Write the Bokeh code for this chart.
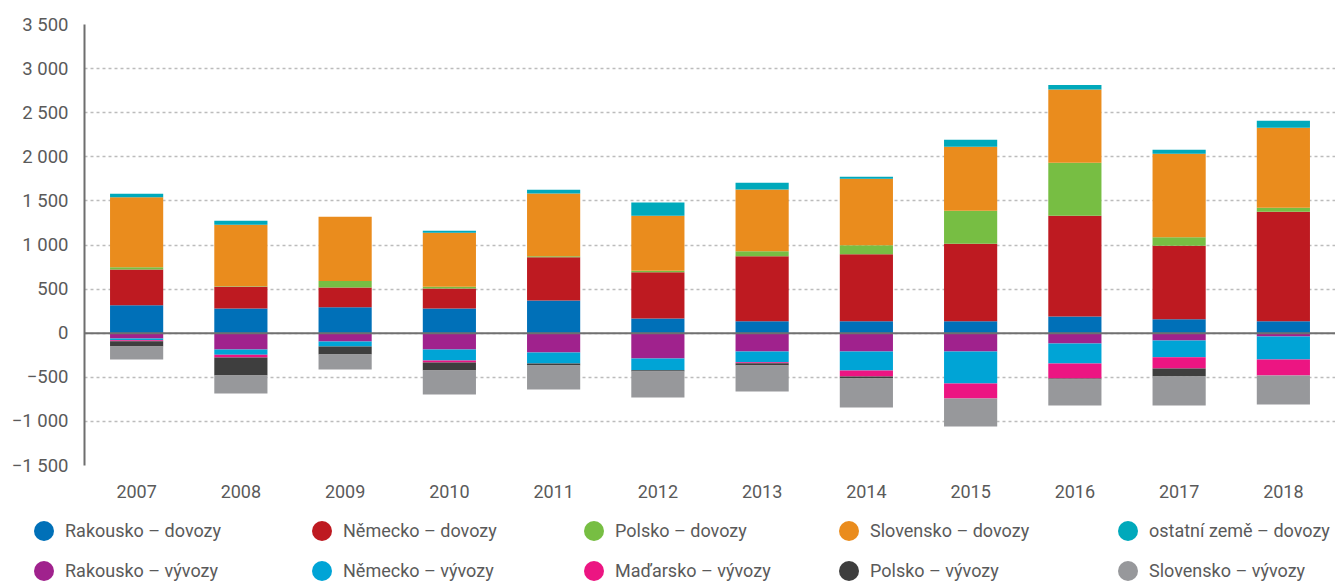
from bokeh.plotting import figure
from bokeh.layouts import column
from bokeh.models import Range1d, FactorRange, FixedTicker, Span, Div
from bokeh.embed import file_html
from bokeh.resources import INLINE

years = ["2007", "2008", "2009", "2010", "2011", "2012", "2013", "2014", "2015", "2016", "2017", "2018"]

rakousko_dovozy = [317, 279, 294, 279, 370, 166, 136, 136, 136, 189, 158, 136]
nemecko_dovozy = [404, 249, 223, 227, 490, 525, 736, 758, 879, 1143, 834, 1241]
polsko_dovozy = [26, 5, 75, 22, 12, 18, 56, 102, 374, 600, 95, 46]
slovensko_dovozy = [793, 697, 729, 612, 713, 623, 702, 755, 724, 830, 947, 905]
ostatni_dovozy = [41, 45, 0, 22, 41, 151, 76, 23, 79, 53, 45, 80]

rakousko_vyvozy = [-60, -185, -94, -185, -219, -287, -208, -208, -208, -117, -83, -38]
nemecko_vyvozy = [-19, -60, -57, -124, -124, -132, -120, -215, -362, -226, -189, -260]
madarsko_vyvozy = [-11, -30, 0, -23, 0, 0, -12, -68, -170, -170, -128, -181]
polsko_vyvozy = [-61, -204, -91, -91, -23, -15, -26, -22, 0, -12, -91, 0]
slovensko_vyvozy = [-147, -204, -169, -271, -272, -294, -294, -329, -317, -294, -328, -329]

import_labels = ["Rakousko – dovozy", "Německo – dovozy", "Polsko – dovozy",
                 "Slovensko – dovozy", "ostatní země – dovozy"]
export_labels = ["Rakousko – vývozy", "Německo – vývozy", "Maďarsko – vývozy",
                 "Polsko – vývozy", "Slovensko – vývozy"]
import_colors = ["#0070b8", "#be1a21", "#77be43", "#ea8c1d", "#00a9bb"]
export_colors = ["#a0228d", "#00a4d6", "#ec1582", "#3e3e3e", "#97989b"]

y_ticks = [-1500, -1000, -500, 0, 500, 1000, 1500, 2000, 2500, 3000, 3500]


def fmt(v):
    s = f"{abs(v):,}".replace(",", " ")
    return ("\u2212" + s) if v < 0 else s


FONT = "Roboto"
TEXT = "#5a5a5a"
W = 1335

p = figure(width=W, height=509, x_range=FactorRange(*years),
           y_range=Range1d(-1500, 3500), output_backend="svg",
           toolbar_location=None, min_border_left=84, min_border_right=0,
           min_border_top=24, min_border_bottom=44)
p.outline_line_color = None

imp_data = {"years": years, "i0": rakousko_dovozy, "i1": nemecko_dovozy, "i2": polsko_dovozy,
            "i3": slovensko_dovozy, "i4": ostatni_dovozy}
exp_data = {"years": years, "e0": rakousko_vyvozy, "e1": nemecko_vyvozy, "e2": madarsko_vyvozy,
            "e3": polsko_vyvozy, "e4": slovensko_vyvozy}

p.vbar_stack(["i0", "i1", "i2", "i3", "i4"], x="years", width=0.51, color=import_colors,
             line_color=None, source=imp_data)
p.vbar_stack(["e0", "e1", "e2", "e3", "e4"], x="years", width=0.51, color=export_colors,
             line_color=None, source=exp_data)

p.add_layout(Span(location=0, dimension="width", line_color="#707070", line_width=2))

p.yaxis.ticker = FixedTicker(ticks=y_ticks)
p.yaxis.major_label_overrides = {t: fmt(t) for t in y_ticks}
p.yaxis.axis_line_color = "#6e6e6e"
p.yaxis.axis_line_width = 2
p.yaxis.major_tick_line_color = None
p.yaxis.minor_tick_line_color = None
p.yaxis.major_tick_out = 0
p.yaxis.major_tick_in = 0
p.yaxis.major_label_standoff = 16
p.yaxis.major_label_text_font = FONT
p.yaxis.major_label_text_font_size = "18.5px"
p.yaxis.major_label_text_color = TEXT

p.xaxis.axis_line_color = None
p.xaxis.major_tick_line_color = None
p.xaxis.minor_tick_line_color = None
p.xaxis.major_tick_out = 0
p.xaxis.major_tick_in = 0
p.xaxis.major_label_standoff = 19
p.xaxis.major_label_text_font = FONT
p.xaxis.major_label_text_font_size = "18px"
p.xaxis.major_label_text_color = TEXT

p.xgrid.grid_line_color = None
p.ygrid.grid_line_color = "#bcbcbc"
p.ygrid.grid_line_width = 1.3
p.ygrid.grid_line_dash = "3 3"

# legend: 5 x 2 grid of circle markers with labels, below the plot
col_left = [34, 312, 584, 839, 1118]
row_top = [12, 52]
entries = []
for row, (labels, colors) in enumerate([(import_labels, import_colors), (export_labels, export_colors)]):
    for col, (lab, c) in enumerate(zip(labels, colors)):
        entries.append(
            f'<div style="position:absolute;left:{col_left[col]}px;top:{row_top[row]}px;'
            f'height:20px;line-height:20px;white-space:nowrap;">'
            f'<span style="display:inline-block;width:20px;height:20px;border-radius:50%;'
            f'background:{c};vertical-align:top;margin-right:11px;"></span>'
            f'<span style="display:inline-block;vertical-align:top;height:20px;line-height:20px;">{lab}</span></div>'
        )
legend_html = (f'<div style="position:relative;width:{W}px;height:72px;font-family:{FONT};'
               f'font-size:18px;color:{TEXT};">' + "".join(entries) + '</div>')
legend_div = Div(text=legend_html, width=W, height=72, margin=0)

layout = column(p, legend_div, spacing=0)
open("out.html", "w", encoding="utf-8").write(file_html(layout, INLINE))
